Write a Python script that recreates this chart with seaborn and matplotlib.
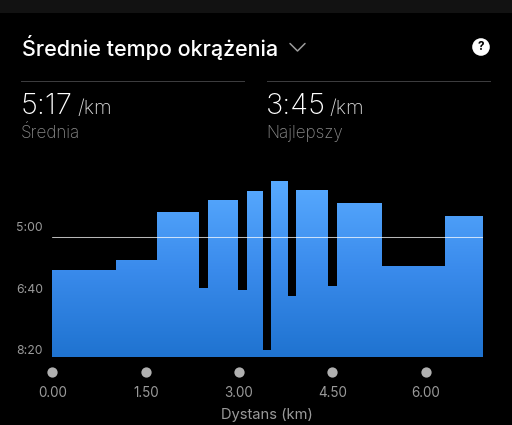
import numpy as np
import pandas as pd
import matplotlib
matplotlib.use("Agg")
import matplotlib.pyplot as plt
from matplotlib.colors import LinearSegmentedColormap
from matplotlib.patches import Circle, PathPatch, Rectangle
from matplotlib.lines import Line2D
from matplotlib.path import Path
import seaborn as sns

# ---- data ----
lap_km = [1.015, 0.673, 0.668, 0.151, 0.477, 0.146, 0.256, 0.121, 0.276, 0.141, 0.502, 0.156, 0.718, 1.005, 0.618]
lap_pace_s = [370, 354, 276, 400, 256, 402, 242, 500.5, 225, 412, 240, 396, 261.5, 363, 282]
avg_pace_s = 317
slowest_s = 511
y_ticks_s = [300, 400, 500]
y_tick_labels = ["5:00", "6:40", "8:20"]
x_ticks = [0, 1.5, 3, 4.5, 6]
x_tick_labels = ["0.00", "1.50", "3.00", "4.50", "6.00"]
title = "Średnie tempo okrążenia"
stat_values = ["5:17", "3:45"]
stat_names = ["Średnia", "Najlepszy"]

W, H = 512, 425
sns.set_theme(style="dark", rc={"figure.facecolor": "black", "axes.facecolor": "black"})
plt.rcParams["font.family"] = ["Inter", "DejaVu Sans"]

fig = plt.figure(figsize=(W / 100, H / 100), dpi=100, facecolor="black")
def fx(p): return p / W
def fy(p): return 1 - p / H

# chart axes: px x 52.4..483, y 170..356.7
ax = fig.add_axes([fx(52.4), fy(356.7), (483 - 52.4) / W, (356.7 - 170) / H])
ax.set_facecolor("black")

edges = np.concatenate([[0], np.cumsum(lap_km)])
mids = (edges[:-1] + edges[1:]) / 2
df = pd.DataFrame({"km": mids, "height": slowest_s - np.array(lap_pace_s, dtype=float)})
sns.histplot(data=df, x="km", weights="height", bins=list(edges), stat="count",
             color="#3b8df0", edgecolor="none", linewidth=0, alpha=1, ax=ax)

ax.set_xlim(0, edges[-1])
ymax = (356.7 - 170) * (1 / 0.615)
ax.set_ylim(0, ymax)

# vertical gradient clipped to the bars
cmap = LinearSegmentedColormap.from_list("pace", ["#1f73d0", "#3a8bec", "#58aaff"])
top_h = slowest_s - min(lap_pace_s)
grad = np.linspace(1, 0, 256).reshape(-1, 1)
im = ax.imshow(grad, extent=[0, edges[-1], 0, top_h], aspect="auto", cmap=cmap, zorder=2, interpolation="bilinear")
paths = [p.get_path().transformed(p.get_patch_transform()) for p in ax.patches]
clip = PathPatch(Path.make_compound_path(*paths), transform=ax.transData, facecolor="none", edgecolor="none")
ax.add_patch(clip)
im.set_clip_path(clip)
ax.set_xlim(0, edges[-1])
ax.set_ylim(0, ymax)

# average line
ax.axhline(slowest_s - avg_pace_s, color="white", alpha=0.72, lw=0.75, zorder=3)

# axes styling
for s in ax.spines.values():
    s.set_visible(False)
ax.grid(False)
ax.set_yticks([slowest_s - v for v in y_ticks_s])
ax.set_yticklabels(y_tick_labels)
ax.tick_params(axis="y", length=0, pad=6.8, labelsize=8.8, labelcolor="#9a9a9a")
ax.set_xticks(x_ticks)
ax.set_xticklabels(x_tick_labels)
ax.tick_params(axis="x", length=0, pad=21, labelsize=9.7, labelcolor="#9a9a9a")
ax.set_xlabel("")
ax.set_ylabel("")
ax.plot(x_ticks, [-(372.5 - 356.7) / 0.615] * len(x_ticks), "o", ms=7.4, color="#b0b0b0", mec="none", clip_on=False)
ax.set_ylim(0, ymax)

# header band
fig.add_artist(Rectangle((0, fy(12.5)), 1, 12.5 / H, transform=fig.transFigure, color="#121212", lw=0))

# header text
fig.text(fx(21.5), fy(47.5), title, color="white", fontsize=15.5, fontweight="medium", va="center", ha="left")
fig.add_artist(Line2D([fx(290), fx(297.5), fx(305)], [fy(43.5), fy(51), fy(43.5)], color="#9c9c9c", lw=1.1))
fig.add_artist(Rectangle((fx(21), fy(82)), 224 / W, 1 / H, transform=fig.transFigure, color="#3c3c3e", lw=0))
fig.add_artist(Rectangle((fx(267), fy(82)), 224 / W, 1 / H, transform=fig.transFigure, color="#3c3c3e", lw=0))

# help icon
hax = fig.add_axes([fx(471), fy(57), 20 / W, 20 / H])
hax.set_xlim(-10, 10); hax.set_ylim(-10, 10); hax.axis("off")
hax.add_patch(Circle((0, 0), 8.8, color="white", lw=0))
hax.text(0, -0.3, "?", color="black", fontsize=8.5, fontweight="bold", ha="center", va="center")

for x0, val, name, unit_x in zip([20.5, 266], stat_values, stat_names, [77.5, 329.5]):
    fig.text(fx(x0), fy(106), val, color="white", fontsize=21, fontweight="light", va="center", ha="left")
    fig.text(fx(unit_x), fy(108.5), "/km", color="#dddddd", fontsize=14.5, fontweight="light", va="center", ha="left")
    fig.text(fx(x0 + 0.5), fy(133), name, color="#8a8a8a", fontsize=12.3, fontweight="light", va="center", ha="left")

fig.text(fx(267), fy(415.5), "Dystans (km)", color="#9a9a9a", fontsize=10.6, va="center", ha="center")

fig.savefig("out.png", dpi=100, facecolor="black")
